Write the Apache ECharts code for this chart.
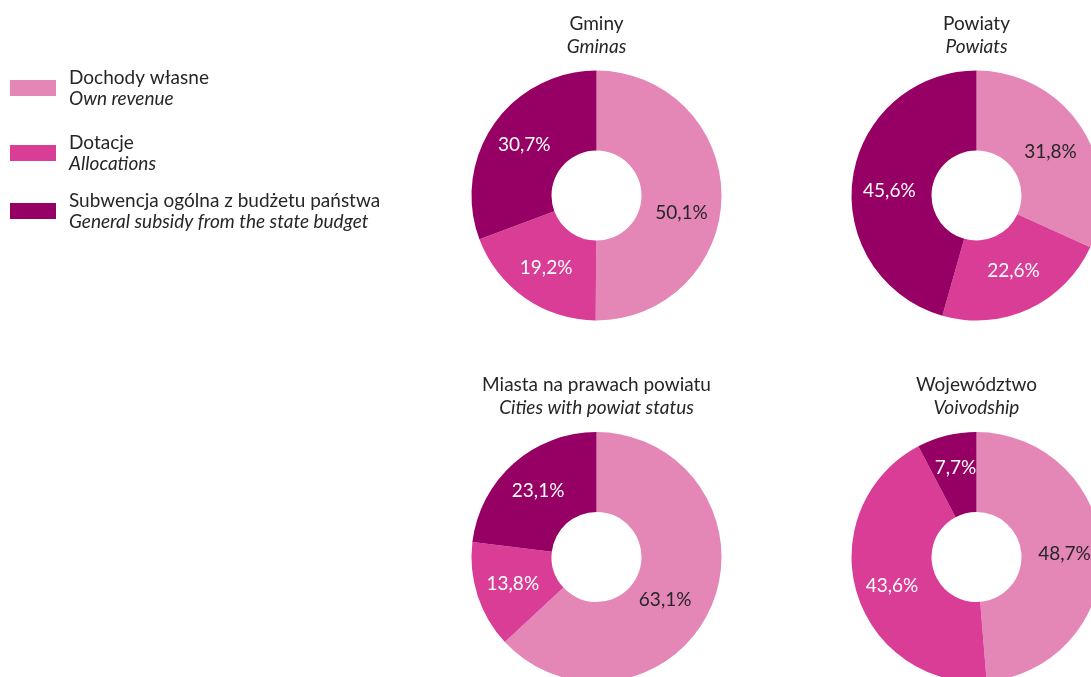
<!DOCTYPE html>
<html>
<head>
<meta charset="utf-8">
<script src="https://cdn.jsdelivr.net/npm/echarts@6/dist/echarts.min.js"></script>
<style>
html,body{margin:0;padding:0;background:#fff;}
#chart{width:1091px;height:677px;}
</style>
</head>
<body>
<div id="chart"></div>
<script>
// ---- data ----
const categories = ['Dochody własne', 'Dotacje', 'Subwencja ogólna z budżetu państwa'];
const categoriesEn = ['Own revenue', 'Allocations', 'General subsidy from the state budget'];
const panelTitles = ['Gminy', 'Powiaty', 'Miasta na prawach powiatu', 'Województwo'];
const panelSubtitles = ['Gminas', 'Powiats', 'Cities with powiat status', 'Voivodship'];
const gminy = [50.1, 19.2, 30.7];
const powiaty = [31.8, 22.6, 45.6];
const miasta = [63.1, 13.8, 23.1];
const wojewodztwo = [48.7, 43.6, 7.7];

// ---- styles / layout ----
const FONT = 'Lato, "Open Sans", sans-serif';
const TEXT = '#262626';
const colors = ['#E486B6', '#D93D95', '#960064'];
const labelColors = [TEXT, '#ffffff', '#ffffff'];
const panels = [
  {values: gminy, cx: 596.5, cy: 195.5, nudge: [[-3, 17], [0, 0], [0, 0]]},
  {values: powiaty, cx: 976.5, cy: 195.5, nudge: [[0, 4], [0, -4], [0, 8]]},
  {values: miasta, cx: 596.5, cy: 557, nudge: [[-12, 8], [0, 0], [0, 0]]},
  {values: wojewodztwo, cx: 976.5, cy: 557, nudge: [[0, 0], [0, 4], [0, -4]]}
];
const legendTops = [68, 133, 191];

const chart = echarts.init(document.getElementById('chart'), null, {renderer: 'canvas'});

const fmt = v => v.toFixed(1).replace('.', ',') + '%';

const series = panels.map((p, i) => ({
  type: 'pie',
  name: panelTitles[i],
  center: [p.cx, p.cy],
  radius: [45, 125],
  startAngle: 90,
  clockwise: true,
  avoidLabelOverlap: false,
  silent: true,
  emphasis: {disabled: true},
  itemStyle: {borderWidth: 0},
  label: {
    show: true,
    position: 'inside',
    fontFamily: FONT,
    fontSize: 19,
    formatter: params => fmt(params.value)
  },
  labelLine: {show: false},
  labelLayout: params => ({dx: p.nudge[params.dataIndex][0], dy: p.nudge[params.dataIndex][1]}),
  data: p.values.map((v, k) => ({
    name: categories[k],
    value: v,
    itemStyle: {color: colors[k]},
    label: {color: labelColors[k]}
  }))
}));

const titles = panels.map((p, i) => ({
  text: panelTitles[i],
  subtext: panelSubtitles[i],
  left: p.cx,
  top: p.cy - 183,
  textAlign: 'center',
  padding: 0,
  itemGap: 1,
  textStyle: {fontFamily: FONT, fontSize: 19, fontWeight: 'normal', color: TEXT, lineHeight: 22},
  subtextStyle: {fontFamily: FONT, fontSize: 19, fontStyle: 'italic', color: TEXT, lineHeight: 22}
}));

const legends = categories.map((c, k) => ({
  data: [c],
  orient: 'vertical',
  left: 10,
  top: legendTops[k],
  padding: 0,
  itemWidth: 46,
  itemHeight: 16,
  icon: 'rect',
  selectedMode: false,
  formatter: name => '{a|' + name + '}\n{b|' + categoriesEn[categories.indexOf(name)] + '}',
  textStyle: {
    padding: [0, 0, 0, 8],
    rich: {
      a: {fontFamily: FONT, fontSize: 19, color: TEXT, lineHeight: 21},
      b: {fontFamily: FONT, fontSize: 19, color: TEXT, fontStyle: 'italic', lineHeight: 21}
    }
  }
}));

chart.setOption({
  animation: false,
  color: colors,
  title: titles,
  legend: legends,
  series: series
});
</script>
</body>
</html>
